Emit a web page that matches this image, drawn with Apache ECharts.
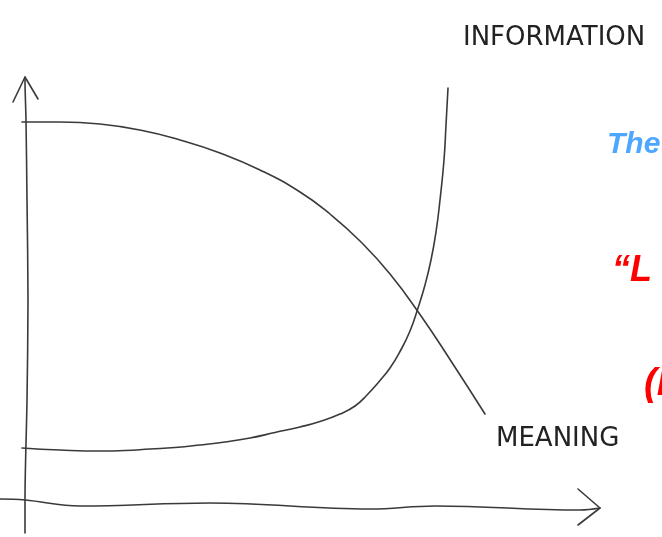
<!DOCTYPE html>
<html>
<head>
<meta charset="utf-8">
<style>
  html, body { margin: 0; padding: 0; background: #ffffff; }
  #chart { width: 662px; height: 537px; }
</style>
<script src="https://cdn.jsdelivr.net/npm/echarts@6/dist/echarts.min.js"></script>
</head>
<body>
<div id="chart"></div>
<script>
// ---- Data (abstract units: origin where the hand-drawn axes cross) ----
const meaningX = [-0.6, 7, 15, 23, 31, 39, 47, 55, 61, 67, 73, 79, 85, 92];
const meaningY = [75.6, 75.6, 75.2, 74, 72, 69.4, 66, 61.6, 57.2, 51.8, 45.2, 37.1, 28.1, 17.2];

const informationX = [-0.6, 7, 15, 20, 25, 30, 35, 40, 45, 50, 55, 59, 63, 66, 68.4, 71, 73, 75, 77, 78.6, 80, 81.2, 82.2, 83, 83.8, 84.2, 84.6];
const informationY = [10.4, 10, 9.8, 9.9, 10.2, 10.5, 11, 11.6, 12.4, 13.5, 14.6, 15.7, 17.2, 18.8, 21, 23.9, 26.4, 29.7, 33.8, 38.4, 43, 48, 53.6, 60, 68, 75, 82.4];

// hand-drawn axes
const yAxisX = [0, 0, 0.4, 0.6, 0.4, 0.2, 0, 0];
const yAxisY = [-6.6, 0, 20, 40, 60, 76, 84, 84.6];
const yArrowX = [-2.4, 0, 2.6];
const yArrowY = [79.6, 84.6, 80.2];

const xAxisX = [-5, 0, 11, 37, 69, 82, 111, 115];
const xAxisY = [0.2, 0, -1.2, -0.6, -1.8, -1.2, -2, -1.6];
const xArrowX = [110.6, 115, 110.6];
const xArrowY = [2.2, -1.6, -5];

const labelInformation = 'INFORMATION';
const labelMeaning = 'MEANING';
const sideTexts = ['The', '\u201CL', '(I'];

function zip(xs, ys) { return xs.map((x, i) => [x, ys[i]]); }

const ink = '#3a3a3a';
function line(name, xs, ys, smooth, width) {
  return {
    name: name, type: 'line', data: zip(xs, ys), smooth: smooth,
    symbol: 'none', silent: true, animation: false,
    lineStyle: { color: ink, width: width || 1.6, cap: 'round', join: 'round' }
  };
}

const handFont = { fontFamily: 'DejaVu Sans', fontSize: 26, fontWeight: 'normal', color: '#222' };
const chart = echarts.init(document.getElementById('chart'));
chart.setOption({
  backgroundColor: '#ffffff',
  animation: false,
  grid: { left: 0, right: 0, top: 0, bottom: 0 },
  xAxis: { type: 'value', min: -5, max: 127.4, show: false },
  yAxis: { type: 'value', min: -7.4, max: 100, show: false },
  title: [
    { text: labelInformation, left: 463, top: 25, padding: 0, textStyle: handFont },
    { text: labelMeaning, left: 496, top: 426, padding: 0, textStyle: handFont },
    { text: sideTexts[0], left: 607, top: 130, padding: 0,
      textStyle: { fontFamily: 'Liberation Sans', fontSize: 30, fontWeight: 'bold', fontStyle: 'italic', color: '#4da6ff' } },
    { text: sideTexts[1], left: 612, top: 253, padding: 0,
      textStyle: { fontFamily: 'Liberation Sans', fontSize: 36, fontWeight: 'bold', fontStyle: 'italic', color: '#ff0000' } },
    { text: sideTexts[2], left: 644, top: 366, padding: 0,
      textStyle: { fontFamily: 'Liberation Sans', fontSize: 38, fontWeight: 'bold', fontStyle: 'italic', color: '#ff0000' } }
  ],
  series: [
    line('yAxisLine', yAxisX, yAxisY, 0.3),
    line('yArrow', yArrowX, yArrowY, false),
    line('xAxisLine', xAxisX, xAxisY, 0.4),
    line('xArrow', xArrowX, xArrowY, false),
    line('Meaning', meaningX, meaningY, 0.5),
    line('Information', informationX, informationY, 0.5)
  ]
});
</script>
</body>
</html>
